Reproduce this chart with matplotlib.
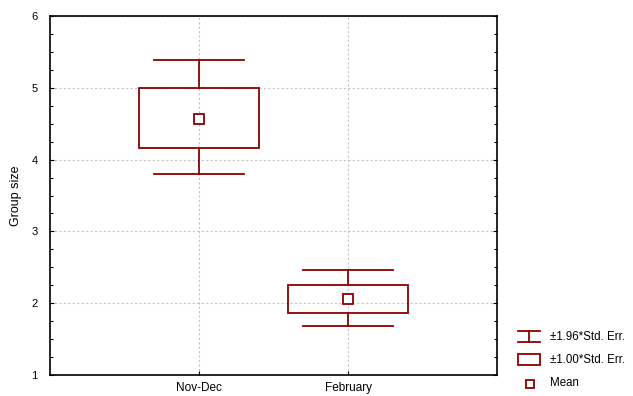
import matplotlib
matplotlib.use("Agg")
import matplotlib.pyplot as plt
from matplotlib.patches import Rectangle
from matplotlib.ticker import MultipleLocator

categories = ["Nov-Dec", "February"]
means = [4.57, 2.06]
se_hi = [5.00, 2.26]      # mean + 1.00*SE
se_lo = [4.16, 1.86]      # mean - 1.00*SE
ci_hi = [5.39, 2.46]      # mean + 1.96*SE
ci_lo = [3.80, 1.68]      # mean - 1.96*SE

red = "#8B0000"
plt.rcParams['font.family'] = ['Liberation Sans', 'DejaVu Sans']

fig = plt.figure(figsize=(6.33, 3.96), dpi=100)
W, H = 633, 396
ax = fig.add_axes([50 / W, 1 - 375 / H, (497 - 50) / W, (375 - 16) / H])

pos = [1, 2]
box_hw = 0.405
cap_hw = 0.305
for x, m, bh, bl, ch, cl in zip(pos, means, se_hi, se_lo, ci_hi, ci_lo):
    ax.add_patch(Rectangle((x - box_hw, bl), 2 * box_hw, bh - bl, fill=False,
                           edgecolor=red, lw=1.3, zorder=3))
    ax.plot([x, x], [bh, ch], color=red, lw=1.3, zorder=3)
    ax.plot([x, x], [bl, cl], color=red, lw=1.3, zorder=3)
    ax.plot([x - cap_hw, x + cap_hw], [ch, ch], color=red, lw=1.3, zorder=3)
    ax.plot([x - cap_hw, x + cap_hw], [cl, cl], color=red, lw=1.3, zorder=3)
    ax.plot([x], [m], marker='s', ms=7, mfc='white', mec=red, mew=1.3, zorder=4)

ax.set_xlim(0, 3)
ax.set_ylim(1, 6)
ax.set_xticks(pos)
ax.set_xticklabels(categories)
ax.yaxis.set_major_locator(MultipleLocator(1))
ax.yaxis.set_minor_locator(MultipleLocator(0.25))
ax.tick_params(axis='both', direction='in', labelsize=8, length=3, width=0.8,
               right=True, top=False)
ax.tick_params(axis='y', which='minor', direction='in', length=2, width=0.8, right=True)
ax.tick_params(axis='x', pad=5, labelsize=8.5)
ax.tick_params(axis='y', pad=9)
ax.grid(True, which='major', color='#c4c4c4', linestyle=(0, (2, 2)), lw=0.8)
for s in ax.spines.values():
    s.set_linewidth(1.2)
    s.set_color('black')
ax.set_ylabel("Group size", fontsize=9)
ax.yaxis.set_label_coords(-(50 - 22) / 447, 0.5)

# legend drawn at right outside axes
lg = fig.add_axes([0, 0, 1, 1], facecolor='none')
lg.set_xlim(0, W)
lg.set_ylim(H, 0)
lg.axis('off')
# whisker symbol
lg.plot([518, 540], [331, 331], color=red, lw=1.3)
lg.plot([518, 540], [342, 342], color=red, lw=1.3)
lg.plot([529, 529], [331, 342], color=red, lw=1.3)
lg.text(550, 337, "±1.96*Std. Err.", fontsize=8.3, va='center', ha='left')
# box symbol
lg.add_patch(Rectangle((518, 354), 22, 11, fill=False, edgecolor=red, lw=1.3))
lg.text(550, 360, "±1.00*Std. Err.", fontsize=8.3, va='center', ha='left')
# mean symbol
lg.plot([530], [384], marker='s', ms=6, mfc='white', mec=red, mew=1.3)
lg.text(550, 383, "Mean", fontsize=8.3, va='center', ha='left')

fig.savefig("out.png", dpi=100)
